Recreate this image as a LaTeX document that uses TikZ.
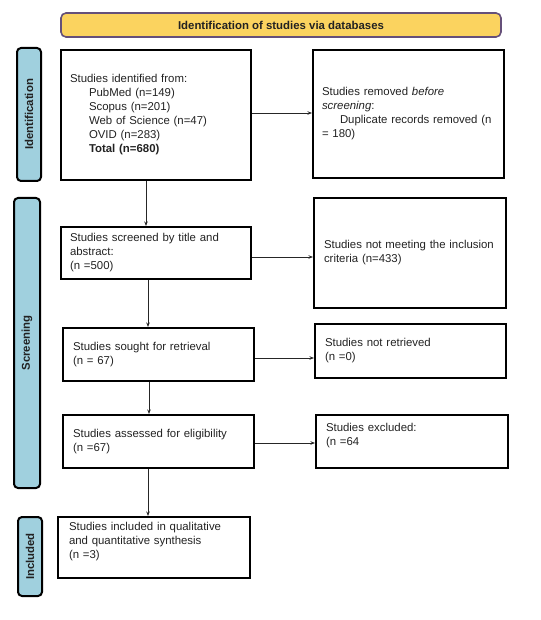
\documentclass[tikz,border=0pt]{standalone}
\usepackage{fontspec}
\setmainfont{Liberation Sans}
\usetikzlibrary{arrows.meta}
\definecolor{hdrfill}{HTML}{FBD35F}
\definecolor{hdrline}{HTML}{65507A}
\definecolor{barfill}{HTML}{A0D0DE}
\definecolor{ink}{HTML}{222222}
\begin{document}
\begin{tikzpicture}[x=1pt,y=-1pt,
  font=\fontsize{11.4}{14}\selectfont, text=ink,
  box/.style={draw=black, line width=2pt, inner xsep=9pt, inner ysep=2pt, align=left, anchor=center},
  bar/.style={draw=black, line width=2pt, fill=barfill, rounded corners=4pt, rotate=90,
    font=\fontsize{11.4}{14}\selectfont\bfseries, inner sep=0pt},
  arr/.style={draw=black!85, line width=0.9pt, -{Stealth[length=4.5pt,width=3.5pt]}}]
\useasboundingbox (0,0) rectangle (540,620);

% header
\node[draw=hdrline, line width=1.6pt, fill=hdrfill, rounded corners=5pt,
  minimum width=440pt, minimum height=24pt, font=\fontsize{11.4}{14}\selectfont\bfseries]
  (hdr) at (281,25) {Identification of studies via databases};

% side bars
\node[bar, minimum width=133pt, minimum height=24pt] (bid) at (29,114.5) {Identification};
\node[bar, minimum width=290pt, minimum height=26pt] (bsc) at (27,343) {Screening};
\node[bar, minimum width=79pt, minimum height=24pt] (bin) at (30,556.5) {Included};

% boxes
\node[box, minimum width=190pt, minimum height=130pt, text width=172pt] (b1) at (156,115)
 {Studies identified from:\\
  \hspace*{19pt}PubMed (n=149)\\
  \hspace*{19pt}Scopus (n=201)\\
  \hspace*{19pt}Web of Science (n=47)\\
  \hspace*{19pt}OVID (n=283)\\
  \hspace*{19pt}\textbf{Total (n=680)}};

\node[box, minimum width=191pt, minimum height=128pt, text width=173pt] (rem) at (408.5,114)
 {Studies removed \textit{before}\\
  \textit{screening}:\\
  \mbox{\hspace*{18pt}Duplicate records removed (n}\\
  = 180)};

\node[box, minimum width=190pt, minimum height=52pt, text width=172pt] (scr) at (156,253)
 {Studies screened by title and\\ abstract:\\ (n =500)};

\node[box, inner xsep=10pt, minimum width=192pt, minimum height=110pt, text width=172pt] (nm) at (410,253)
 {\mbox{Studies not meeting the inclusion}\\ criteria (n=433)};

\node[box, inner xsep=10pt, minimum width=191pt, minimum height=53pt, text width=171pt] (sou) at (158.5,354.5)
 {Studies sought for retrieval\\ (n = 67)};

\node[box, inner xsep=10pt, minimum width=191pt, minimum height=54pt, text width=171pt] (nr) at (410.5,351)
 {Studies not retrieved\\ (n =0)};

\node[box, inner xsep=10pt, minimum width=191pt, minimum height=53pt, text width=171pt] (ass) at (158.5,441.5)
 {Studies assessed for eligibility\\ (n =67)};

\node[box, inner xsep=10pt, minimum width=192pt, minimum height=53pt, text width=172pt] (ex) at (412,441.5)
 {Studies excluded:\\ (n =64\\ \mbox{}};

\node[box, inner xsep=11pt, minimum width=192pt, minimum height=61pt, text width=170pt] (inc) at (154,547.5)
 {Studies included in qualitative\\ and quantitative synthesis\\ (n =3)\\ \mbox{}};

% connectors
\path ([xshift=-10pt]b1.south) coordinate (v1)
      ([xshift=-8pt]scr.south) coordinate (v2)
      ([xshift=-9.5pt]sou.south) coordinate (v3)
      ([xshift=-10.5pt]ass.south) coordinate (v4)
      ([yshift=2pt]b1.east) coordinate (h1)
      ([yshift=-4pt]scr.east) coordinate (h2)
      ([yshift=-3.5pt]sou.east) coordinate (h3)
      ([yshift=-1.5pt]ass.east) coordinate (h4);

\draw[arr] (v1) -- (v1 |- scr.north);
\draw[arr] (v2) -- (v2 |- sou.north);
\draw[arr] (v3) -- (v3 |- ass.north);
\draw[arr] (v4) -- (v4 |- inc.north);

\draw[arr] (h1) -- (h1 -| rem.west);
\draw[arr] (h2) -- (h2 -| nm.west);
\draw[arr] (h3) -- (h3 -| nr.west);
\draw[arr] (h4) -- (h4 -| ex.west);
\end{tikzpicture}
\end{document}
